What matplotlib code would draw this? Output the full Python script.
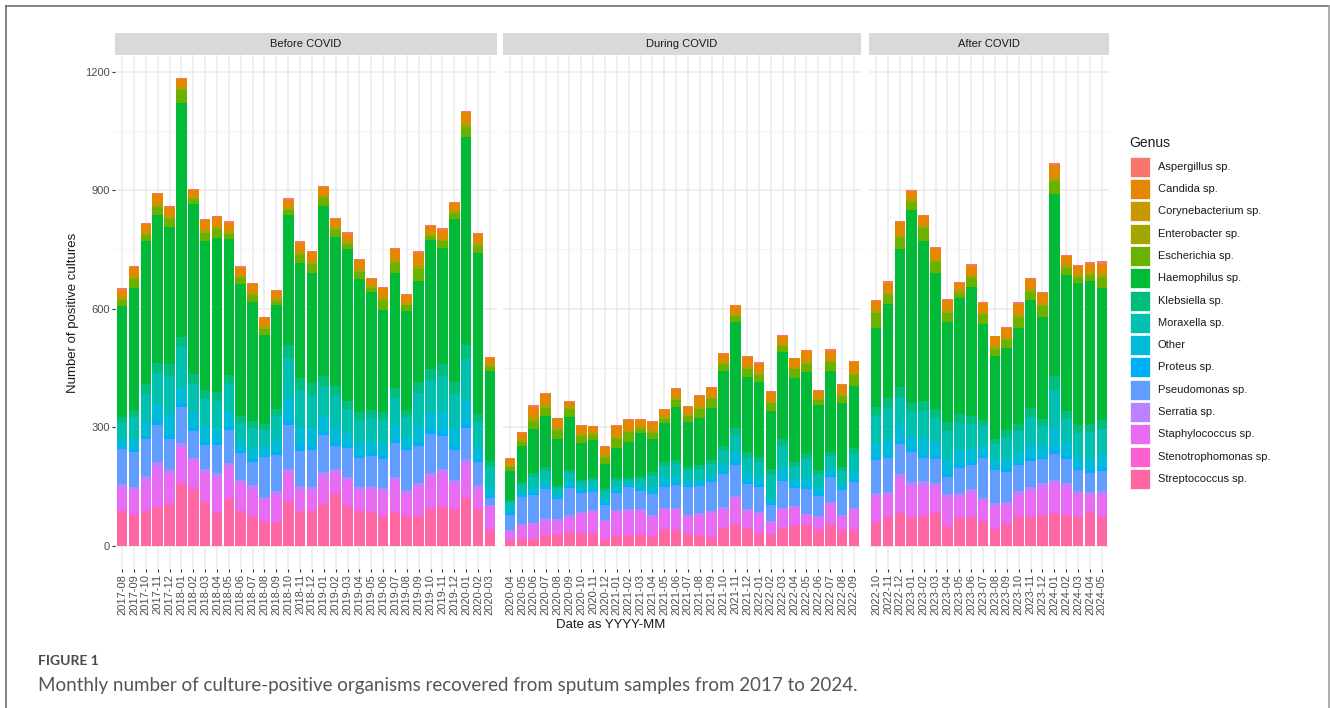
import numpy as np
import pandas as pd
import matplotlib
matplotlib.use('Agg')
import matplotlib.pyplot as plt
from matplotlib.patches import Rectangle
from matplotlib.lines import Line2D

plt.rcParams['font.family'] = ['Liberation Sans', 'DejaVu Sans']

# facets and their months
periods = ['Before COVID', 'During COVID', 'After COVID']
months_before = list(pd.period_range('2017-08', '2020-03', freq='M').strftime('%Y-%m'))
months_during = list(pd.period_range('2020-04', '2022-09', freq='M').strftime('%Y-%m'))
months_after = list(pd.period_range('2022-10', '2024-05', freq='M').strftime('%Y-%m'))
months = [months_before, months_during, months_after]

genera = ['Aspergillus sp.', 'Candida sp.', 'Corynebacterium sp.', 'Enterobacter sp.',
          'Escherichia sp.', 'Haemophilus sp.', 'Klebsiella sp.', 'Moraxella sp.', 'Other',
          'Proteus sp.', 'Pseudomonas sp.', 'Serratia sp.', 'Staphylococcus sp.',
          'Stenotrophomonas sp.', 'Streptococcus sp.']
colours = ['#F8766D', '#E58700', '#C99800', '#A3A500', '#6BB100', '#00BA38', '#00BF7D',
           '#00C0AF', '#00BCD8', '#00B0F6', '#619CFF', '#B983FF', '#E76BF3', '#FD61D1', '#FF67A4']

# monthly counts per genus (before | during | after)
aspergillus = [3, 2, 3, 4, 3, 3, 2, 3, 3, 4, 3, 2, 3, 3, 4, 3, 3, 2, 3, 3, 4, 3, 3, 3, 2, 3, 3, 4, 3, 3, 3, 2,
               3, 2, 3, 3, 2, 3, 3, 2, 3, 3, 3, 2, 3, 3, 3, 2, 3, 3, 3, 3, 2, 3, 3, 3, 2, 3, 3, 3, 3, 3,
               3, 3, 2, 3, 3, 3, 4, 3, 3, 3, 2, 3, 3, 3, 3, 4, 3, 3, 3, 9]
candida = [18, 22, 19, 22, 21, 18, 16, 22, 22, 18, 18, 19, 19, 16, 17, 21, 22, 20, 19, 17, 20, 14, 23, 25, 18, 30, 15, 20, 18, 26, 20, 14,
           14, 15, 24, 24, 22, 10, 18, 15, 18, 23, 24, 15, 18, 14, 19, 17, 23, 21, 18, 17, 21, 19, 21, 17, 21, 22, 15, 22, 20, 25,
           20, 22, 30, 20, 22, 27, 23, 16, 23, 23, 22, 22, 26, 23, 25, 30, 20, 19, 19, 22]
corynebacterium = [4, 3, 4, 5, 4, 4, 3, 4, 4, 5, 4, 3, 4, 4, 5, 4, 4, 3, 4, 4, 5, 4, 4, 4, 3, 5, 4, 4, 4, 5, 4, 4,
                   4, 3, 7, 4, 4, 5, 4, 3, 4, 4, 4, 3, 4, 4, 5, 4, 4, 3, 4, 4, 4, 5, 4, 4, 3, 4, 4, 4, 5, 4,
                   4, 5, 4, 4, 3, 4, 5, 4, 4, 4, 5, 4, 4, 3, 4, 5, 4, 4, 4, 4]
enterobacter = [5, 6, 5, 4, 6, 5, 5, 6, 5, 4, 5, 6, 5, 5, 4, 6, 5, 5, 6, 5, 4, 5, 6, 5, 5, 6, 5, 4, 5, 6, 5, 5,
                4, 4, 5, 6, 4, 3, 4, 5, 4, 4, 3, 4, 5, 4, 4, 3, 4, 5, 4, 4, 5, 4, 3, 4, 4, 5, 4, 4, 3, 4,
                5, 5, 6, 5, 4, 5, 5, 6, 5, 5, 4, 5, 6, 5, 5, 6, 5, 4, 5, 5]
escherichia = [14, 22, 16, 20, 19, 33, 11, 22, 22, 14, 14, 16, 16, 12, 13, 20, 22, 19, 16, 13, 19, 10, 23, 26, 14, 32, 11, 18, 15, 27, 19, 10,
               10, 12, 21, 22, 22, 21, 16, 12, 16, 24, 25, 12, 15, 11, 18, 15, 24, 21, 17, 15, 21, 18, 20, 14, 21, 21, 12, 23, 18, 27,
               40, 21, 28, 19, 33, 28, 23, 11, 22, 22, 20, 20, 26, 22, 26, 34, 19, 16, 16, 30]
haemophilus = [282, 309, 362, 375, 346, 593, 431, 375, 389, 344, 336, 302, 225, 261, 329, 291, 280, 432, 378, 384, 335, 298, 259, 292, 252, 255, 325, 293, 411, 526, 407, 228,
               72, 91, 112, 129, 119, 134, 95, 95, 61, 76, 92, 110, 85, 99, 133, 113, 120, 133, 190, 269, 190, 191, 147, 222, 214, 205, 165, 203, 162, 157,
               198, 239, 349, 490, 405, 344, 253, 295, 327, 243, 208, 208, 242, 272, 260, 460, 344, 358, 362, 334]
klebsiella = [14, 18, 24, 27, 32, 24, 25, 24, 23, 24, 16, 18, 14, 20, 34, 31, 29, 26, 26, 21, 20, 20, 20, 24, 17, 28, 28, 31, 30, 36, 20, 16,
              6, 7, 9, 9, 6, 8, 5, 6, 7, 7, 4, 6, 10, 10, 11, 9, 9, 9, 12, 16, 14, 13, 15, 18, 11, 15, 11, 11, 10, 15,
              23, 26, 25, 21, 25, 21, 23, 23, 21, 16, 13, 18, 18, 23, 17, 34, 21, 20, 21, 22]
moraxella = [40, 54, 69, 79, 96, 105, 72, 69, 68, 69, 46, 51, 42, 59, 101, 93, 85, 75, 77, 60, 59, 58, 59, 69, 51, 81, 83, 91, 87, 105, 61, 47,
             13, 16, 27, 27, 15, 23, 15, 18, 21, 18, 10, 17, 27, 31, 32, 25, 27, 28, 35, 45, 39, 37, 59, 53, 32, 46, 32, 32, 29, 44,
             68, 77, 72, 61, 73, 62, 69, 69, 62, 49, 40, 53, 53, 68, 51, 99, 61, 57, 62, 63]
other = [22, 29, 38, 42, 52, 38, 39, 38, 36, 38, 25, 28, 22, 32, 55, 50, 46, 40, 41, 33, 32, 31, 32, 38, 27, 44, 45, 49, 47, 57, 32, 25,
         17, 12, 15, 15, 9, 12, 9, 10, 11, 11, 6, 10, 15, 17, 18, 14, 14, 15, 19, 25, 22, 20, 12, 29, 18, 25, 18, 17, 15, 24,
         36, 41, 39, 33, 39, 34, 37, 37, 33, 26, 21, 28, 29, 36, 27, 53, 33, 31, 34, 34]
proteus = [5, 6, 8, 9, 11, 11, 9, 8, 8, 8, 6, 6, 5, 7, 12, 11, 10, 9, 9, 7, 7, 7, 7, 8, 6, 10, 10, 11, 10, 13, 7, 6,
           3, 3, 4, 4, 3, 3, 3, 3, 3, 3, 2, 3, 4, 4, 4, 3, 3, 3, 4, 6, 5, 5, 5, 6, 4, 5, 4, 4, 3, 5,
           8, 9, 9, 7, 9, 8, 8, 8, 7, 6, 5, 6, 6, 8, 6, 12, 7, 7, 8, 8]
pseudomonas = [88, 87, 93, 93, 77, 90, 67, 62, 72, 85, 67, 60, 101, 91, 111, 90, 92, 93, 58, 72, 72, 76, 73, 86, 101, 92, 97, 85, 76, 78, 59, 18,
               38, 68, 70, 74, 50, 68, 50, 46, 40, 41, 56, 45, 53, 53, 57, 71, 67, 74, 85, 80, 64, 64, 39, 67, 45, 63, 51, 63, 63, 65,
               84, 84, 76, 76, 57, 61, 44, 62, 61, 100, 84, 76, 65, 65, 61, 64, 61, 52, 46, 52]
serratia = [10, 9, 12, 14, 11, 12, 9, 10, 11, 10, 9, 10, 8, 10, 11, 9, 10, 12, 10, 9, 10, 11, 10, 10, 9, 10, 11, 10, 10, 14, 10, 6,
            4, 5, 6, 8, 5, 6, 5, 4, 5, 6, 5, 5, 4, 6, 5, 5, 6, 5, 6, 8, 5, 6, 5, 5, 6, 4, 5, 6, 5, 5,
            10, 9, 11, 10, 12, 10, 9, 10, 11, 9, 10, 9, 10, 11, 10, 12, 10, 9, 10, 11]
staphylococcus = [57, 61, 74, 98, 74, 87, 68, 71, 86, 77, 67, 66, 53, 67, 71, 54, 48, 65, 50, 62, 48, 54, 60, 76, 54, 73, 78, 83, 60, 82, 49, 55,
                  20, 30, 34, 34, 33, 36, 46, 52, 43, 57, 60, 58, 47, 47, 49, 43, 50, 61, 46, 61, 43, 46, 28, 46, 42, 22, 29, 49, 32, 49,
                  61, 53, 84, 78, 75, 64, 70, 51, 57, 47, 53, 45, 51, 62, 68, 71, 68, 54, 40, 53]
stenotrophomonas = [5, 4, 6, 6, 5, 7, 5, 6, 4, 5, 5, 4, 5, 4, 6, 5, 5, 6, 5, 4, 5, 5, 4, 5, 5, 4, 6, 5, 5, 6, 5, 4,
                    3, 3, 2, 3, 3, 4, 3, 3, 2, 3, 3, 4, 3, 3, 4, 3, 3, 2, 3, 4, 3, 3, 3, 4, 3, 3, 3, 4, 3, 3,
                    5, 4, 6, 5, 5, 6, 4, 5, 5, 4, 5, 5, 6, 5, 5, 6, 5, 4, 5, 5]
streptococcus = [84, 75, 84, 95, 103, 154, 141, 107, 82, 116, 86, 73, 58, 57, 107, 82, 86, 103, 128, 99, 86, 82, 73, 82, 72, 72, 90, 95, 90, 117, 90, 38,
                 12, 16, 16, 24, 27, 31, 30, 30, 14, 25, 24, 26, 23, 40, 38, 27, 24, 19, 42, 52, 41, 30, 27, 41, 50, 52, 38, 52, 38, 38,
                 57, 71, 80, 69, 72, 79, 48, 68, 71, 61, 40, 52, 71, 71, 75, 78, 75, 72, 82, 69]

counts = [aspergillus, candida, corynebacterium, enterobacter, escherichia, haemophilus,
          klebsiella, moraxella, other, proteus, pseudomonas, serratia, staphylococcus,
          stenotrophomonas, streptococcus]

W, H = 1330, 708


def fx(px):
    return px / W


def fy(py):
    return 1 - py / H


fig = plt.figure(figsize=(W / 100, H / 100), dpi=100)

# panel extents in pixels (free x space, like facet_grid)
panel_x = [(115, 497), (503, 861), (869, 1109)]
p_top, p_bot, s_top = 55, 569, 33

start = 0
for k, (x0, x1) in enumerate(panel_x):
    n = len(months[k])
    ax = fig.add_axes([fx(x0), fy(p_bot), fx(x1) - fx(x0), (p_bot - p_top) / H])
    x = np.arange(n)
    base = np.zeros(n)
    # stack from the bottom: last factor level first
    for vals, col in zip(reversed(counts), reversed(colours)):
        v = np.array(vals[start:start + n], dtype=float)
        ax.bar(x, v, bottom=base, width=0.9, color=col, linewidth=0, zorder=2)
        base += v
    start += n

    ax.set_xlim(-0.6, n - 0.4)
    ax.set_ylim(-59.15, 1242.15)
    ax.set_xticks(x)
    ax.set_xticklabels(months[k], rotation=90)
    ax.set_yticks([0, 300, 600, 900, 1200])
    ax.set_yticks([150, 450, 750, 1050], minor=True)
    ax.set_axisbelow(True)
    ax.grid(which='major', color='#EBEBEB', lw=1.1, zorder=0)
    ax.grid(which='minor', axis='y', color='#F3F3F3', lw=0.6, zorder=0)
    for s in ax.spines.values():
        s.set_visible(False)
    ax.tick_params(which='major', length=2.2, width=0.8, color='#333333',
                   labelsize=8, labelcolor='#4D4D4D', pad=1.5)
    ax.tick_params(which='minor', length=0)
    if k > 0:
        ax.tick_params(axis='y', which='major', length=0, labelleft=False)

    strip = fig.add_axes([fx(x0), fy(p_top), fx(x1) - fx(x0), (p_top - s_top) / H])
    strip.set_facecolor('#D9D9D9')
    strip.set_xticks([])
    strip.set_yticks([])
    for s in strip.spines.values():
        s.set_visible(False)
    strip.text(0.5, 0.5, periods[k], ha='center', va='center', fontsize=8, color='#1A1A1A',
               transform=strip.transAxes)

fig.text(fx(73), fy(313), 'Number of positive cultures', rotation=90,
         ha='center', va='center', fontsize=9.5, color='#1A1A1A')
fig.text(fx(611), fy(625), 'Date as YYYY-MM', ha='center', va='center',
         fontsize=9.5, color='#1A1A1A')

# legend drawn by hand
fig.text(fx(1129), fy(143), 'Genus', ha='left', va='center', fontsize=10, color='#1A1A1A')
for i, (g, c) in enumerate(zip(genera, colours)):
    yc = 166.7 + 22.3 * i
    fig.add_artist(Rectangle((fx(1130), fy(yc + 10)), 20 / W, 20 / H, transform=fig.transFigure,
                             facecolor=c, edgecolor='white', linewidth=0.5))
    fig.text(fx(1158), fy(yc), g, ha='left', va='center', fontsize=8, color='#1A1A1A')

# caption
fig.text(fx(38), fy(661), 'FIGURE 1', ha='left', va='center', fontsize=10,
         family=['Lato', 'DejaVu Sans'], weight='bold', color='#4A4A4A')
fig.text(fx(38), fy(686), 'Monthly number of culture-positive organisms recovered from sputum samples from 2017 to 2024.',
         ha='left', va='center', fontsize=13.5, family=['Lato', 'DejaVu Sans'], color='#555555')

# frame
fig.add_artist(Line2D([fx(6), fx(6)], [fy(6), 0], transform=fig.transFigure, color='#6E6E6E', lw=1.2))
fig.add_artist(Line2D([fx(6), fx(1329)], [fy(6), fy(6)], transform=fig.transFigure, color='#6E6E6E', lw=1.2))
fig.add_artist(Line2D([fx(1329), fx(1329)], [fy(6), 0], transform=fig.transFigure, color='#A0A0A0', lw=1.2))

fig.savefig('out.png', dpi=100)
